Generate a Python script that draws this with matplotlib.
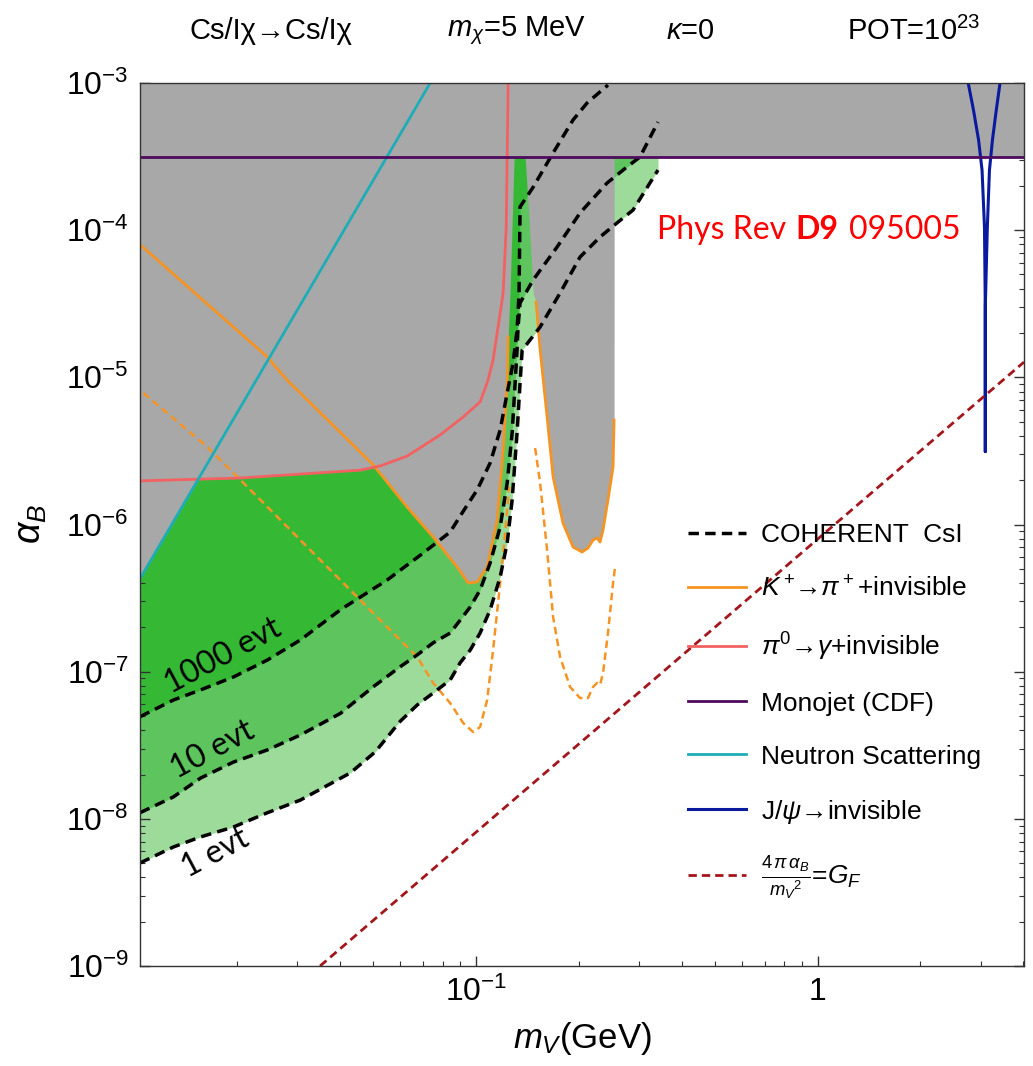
import numpy as np
import matplotlib
matplotlib.use('Agg')
import matplotlib.pyplot as plt
from matplotlib import font_manager as fm
from matplotlib.offsetbox import TextArea, HPacker, AnnotationBbox

# ---------------- data ----------------
x_lim = [0.0104, 4.02]
y_lim = [1e-9, 1e-3]

x_tick_vals = [0.1, 1.0]
x_tick_labels = [r'$10^{-1}$', '1']
y_tick_vals = [1e-9, 1e-8, 1e-7, 1e-6, 1e-5, 1e-4, 1e-3]
y_tick_labels = [r'$10^{-9}$', r'$10^{-8}$', r'$10^{-7}$', r'$10^{-6}$',
                 r'$10^{-5}$', r'$10^{-4}$', r'$10^{-3}$']

# COHERENT CsI projected sensitivity (1000, 10, 1 events)
coh1000_m = [0.0104, 0.01303, 0.01563, 0.01952, 0.02454, 0.03063, 0.04010, 0.05503,
             0.07013, 0.08410, 0.09120, 0.1009, 0.1101, 0.1178, 0.1235, 0.1285,
             0.1320, 0.1338, 0.1347, 0.1471, 0.1683, 0.1925, 0.2115, 0.2436]
coh1000_a = [4.94e-8, 6.42e-8, 7.51e-8, 9.20e-8, 1.20e-7, 1.64e-7, 2.63e-7, 4.20e-7,
             6.40e-7, 8.89e-7, 1.20e-6, 1.72e-6, 2.62e-6, 4.39e-6, 7.83e-6, 1.25e-5,
             2.10e-5, 3.74e-5, 1.44e-4, 1.96e-4, 3.35e-4, 5.61e-4, 7.31e-4, 9.69e-4]

coh10_m = [0.0104, 0.01303, 0.01563, 0.01952, 0.02454, 0.03063, 0.04010, 0.0501,
           0.06006, 0.06735, 0.0750, 0.0841, 0.08997, 0.09623, 0.1029, 0.1101,
           0.1178, 0.1235, 0.1277, 0.1303, 0.1320, 0.1329, 0.1347, 0.1471, 0.1729,
           0.2018, 0.2420, 0.2769, 0.3022, 0.3412]
coh10_a = [1.10e-8, 1.41e-8, 1.89e-8, 2.43e-8, 2.94e-8, 3.71e-8, 5.20e-8, 7.90e-8,
           1.08e-7, 1.30e-7, 1.57e-7, 1.83e-7, 2.24e-7, 2.75e-7, 3.59e-7, 5.48e-7,
           9.62e-7, 1.91e-6, 4.19e-6, 9.15e-6, 1.53e-5, 2.20e-5, 3.20e-5, 4.59e-5,
           7.69e-5, 1.31e-4, 2.09e-4, 2.69e-4, 3.14e-4, 5.43e-4]

coh1_m = [0.0104, 0.01303, 0.01563, 0.01952, 0.02454, 0.03063, 0.04290, 0.05076,
          0.06006, 0.06735, 0.0750, 0.0841, 0.08997, 0.09623, 0.1029, 0.1101,
          0.1178, 0.1235, 0.1277, 0.1320, 0.1347, 0.1366, 0.1542, 0.1764, 0.2018,
          0.2309, 0.2589, 0.2884, 0.3412]
coh1_a = [5.01e-9, 6.44e-9, 7.53e-9, 8.80e-9, 1.10e-8, 1.34e-8, 2.05e-8, 2.85e-8,
          4.60e-8, 5.94e-8, 7.16e-8, 8.78e-8, 1.15e-7, 1.40e-7, 1.83e-7, 2.63e-7,
          4.40e-7, 7.49e-7, 1.47e-6, 4.19e-6, 9.15e-6, 1.53e-5, 2.20e-5, 3.74e-5,
          6.57e-5, 8.99e-5, 1.12e-4, 1.37e-4, 2.56e-4]

# pi0 -> gamma + invisible
pi0_m = [0.01043, 0.02046, 0.0459, 0.0525, 0.0630, 0.0786, 0.0918, 0.1029, 0.1086,
         0.1123, 0.1202, 0.1227, 0.1235, 0.1243]
pi0_a = [1.98e-6, 2.07e-6, 2.34e-6, 2.50e-6, 2.92e-6, 4.06e-6, 5.38e-6, 6.80e-6,
         9.6e-6, 1.31e-5, 3.74e-5, 1.05e-4, 3.14e-4, 1.0e-3]

# K+ -> pi+ + invisible (solid: current bound), left and right branches
kpi_left_m = [0.01043, 0.02449, 0.0280, 0.0501, 0.0630, 0.0750, 0.0882, 0.0950,
              0.1009, 0.1079, 0.1154, 0.1202, 0.1235, 0.1243, 0.1259, 0.1294]
kpi_left_a = [7.93e-5, 1.38e-5, 9.6e-6, 2.54e-6, 1.31e-6, 8.22e-7, 5.14e-7, 4.0e-7,
              4.07e-7, 5.14e-7, 1.07e-6, 3.21e-6, 9.16e-6, 1.88e-5, 3.74e-5, 3.14e-4]
kpi_right_m = [0.1394, 0.1432, 0.1471, 0.1501, 0.1542, 0.1616, 0.1683, 0.1799,
               0.1925, 0.2046, 0.2129, 0.2203, 0.2263, 0.2309, 0.2356, 0.2436,
               0.2521, 0.2538]
kpi_right_a = [3.14e-4, 1.17e-4, 3.74e-5, 3.25e-5, 1.53e-5, 5.38e-6, 2.10e-6, 1.02e-6,
               7.03e-7, 6.50e-7, 6.92e-7, 7.85e-7, 8.1e-7, 7.6e-7, 9.18e-7, 1.47e-6,
               2.46e-6, 5.13e-6]

# K+ -> pi+ + invisible (dashed: projection)
kpi_proj_left_m = [0.01064, 0.01638, 0.02045, 0.02555, 0.03211, 0.04010, 0.0501,
                   0.06006, 0.06735, 0.0750, 0.0841, 0.0918, 0.0982, 0.1029, 0.1079,
                   0.1123, 0.1178, 0.1218, 0.1252]
kpi_proj_left_a = [7.83e-6, 3.36e-6, 2.01e-6, 1.20e-6, 7.03e-7, 4.20e-7, 2.50e-7,
                   1.64e-7, 1.26e-7, 8.38e-8, 6.12e-8, 4.48e-8, 3.89e-8, 4.21e-8,
                   6.42e-8, 1.40e-7, 4.01e-7, 8.76e-7, 1.80e-6]
kpi_proj_right_m = [0.1491, 0.1542, 0.1616, 0.1683, 0.1764, 0.1887, 0.2018, 0.2129,
                    0.2203, 0.2263, 0.2309, 0.2356, 0.2436, 0.2521, 0.2555]
kpi_proj_right_a = [3.31e-6, 1.91e-6, 6.71e-7, 2.35e-7, 1.26e-7, 7.87e-8, 6.62e-8,
                    6.62e-8, 7.87e-8, 8.38e-8, 8.12e-8, 9.79e-8, 1.83e-7, 4.01e-7,
                    5.14e-7]

# Monojet (CDF)
monojet_m = [0.0104, 4.02]
monojet_a = [3.14e-4, 3.14e-4]

# Neutron scattering
nscat_m = [0.01043, 0.0735]
nscat_a = [4.33e-7, 1.0e-3]

# J/psi -> invisible
jpsi_m = [2.760, 2.860, 2.960, 3.030, 3.080, 3.097, 3.097, 3.097, 3.140, 3.185,
          3.250, 3.335, 3.420]
jpsi_a = [1.0e-3, 6.55e-4, 4.10e-4, 2.56e-4, 1.05e-4, 3.0e-5, 3.13e-6, 3.0e-5,
          1.05e-4, 2.56e-4, 4.10e-4, 6.55e-4, 1.0e-3]

# 4 pi alpha_B / m_V^2 = G_F
gf_m = [0.0350, 4.02]
gf_a = [1.0e-9, 1.27e-5]

# ---------------- fonts ----------------
names = {f.name for f in fm.fontManager.ttflist}
narrow = 'Liberation Sans Narrow' if 'Liberation Sans Narrow' in names else 'Liberation Sans'
sans = 'Liberation Sans'
hum = 'Lato'
plt.rcParams['font.family'] = [sans, 'DejaVu Sans']
plt.rcParams['mathtext.fontset'] = 'custom'
plt.rcParams['mathtext.rm'] = sans
plt.rcParams['mathtext.it'] = sans + ':italic'
plt.rcParams['mathtext.bf'] = sans + ':bold'

# ---------------- figure ----------------
W, H = 1033, 1066
fig = plt.figure(figsize=(W / 100, H / 100), dpi=100)
ax = fig.add_axes([140 / W, (H - 966) / H, (1024 - 140) / W, (966 - 83) / H])
ax.set_xscale('log')
ax.set_yscale('log')
ax.set_xlim(*x_lim)
ax.set_ylim(*y_lim)

GRAY = '#A8A8A8'
G_DARK = '#35B935'
G_MED = '#5EC55E'
G_LIGHT = '#9CDB9A'


def loglog_interp(xg, xs, ys):
    xs = np.asarray(xs, float)
    ys = np.asarray(ys, float)
    out = np.full(xg.shape, np.inf)
    m = (xg >= xs.min()) & (xg <= xs.max())
    out[m] = 10 ** np.interp(np.log10(xg[m]), np.log10(xs), np.log10(ys))
    return out


grid = np.unique(np.concatenate([np.geomspace(x_lim[0], x_lim[1], 4000),
                                 pi0_m, kpi_left_m, kpi_right_m, nscat_m,
                                 coh1_m, coh10_m, coh1000_m]))

# green sensitivity bands
for cm, ca, col in [(coh1_m, coh1_a, G_LIGHT), (coh10_m, coh10_a, G_MED),
                    (coh1000_m, coh1000_a, G_DARK)]:
    g = grid[(grid >= min(cm)) & (grid <= max(cm))]
    ax.fill_between(g, loglog_interp(g, cm, ca), y_lim[1], color=col, lw=0, zorder=1)

# gray excluded region = above the lowest existing bound
env = np.minimum.reduce([
    loglog_interp(grid, pi0_m, pi0_a),
    loglog_interp(grid, kpi_left_m, kpi_left_a),
    loglog_interp(grid, kpi_right_m, kpi_right_a),
    loglog_interp(grid, nscat_m, nscat_a),
    loglog_interp(grid, monojet_m, monojet_a),
])
env = np.minimum(env, y_lim[1])
ax.fill_between(grid, env, y_lim[1], color=GRAY, lw=0, zorder=2)

# lines
dash = (3.0, 1.8)
ax.plot(coh1000_m, coh1000_a, color='black', lw=2.5, dashes=dash, zorder=6,
        label='COHERENT  CsI')
ax.plot(coh10_m, coh10_a, color='black', lw=2.5, dashes=dash, zorder=6)
ax.plot(coh1_m, coh1_a, color='black', lw=2.5, dashes=dash, zorder=6)

ORANGE = '#F59423'
ax.plot(kpi_left_m[:-2], kpi_left_a[:-2], color=ORANGE, lw=2.0, zorder=5,
        label=r'$K^+\!$→$\pi^+$+invisible')
ax.plot(kpi_right_m[3:], kpi_right_a[3:], color=ORANGE, lw=2.0, zorder=5)
ax.plot(kpi_proj_left_m, kpi_proj_left_a, color=ORANGE, lw=1.8, dashes=(3, 1.8), zorder=5)
ax.plot(kpi_proj_right_m, kpi_proj_right_a, color=ORANGE, lw=1.8, dashes=(3, 1.8), zorder=5)

ax.plot(pi0_m, pi0_a, color='#F26262', lw=2.0, zorder=5,
        label=r'$\pi^0$→$\gamma$+invisible')
ax.plot(monojet_m, monojet_a, color='#4E0A5E', lw=2.0, zorder=7, label='Monojet (CDF)')
ax.plot(nscat_m, nscat_a, color='#1EADB6', lw=2.0, zorder=5, label='Neutron Scattering')
ax.plot(jpsi_m, jpsi_a, color='#0A1A9E', lw=2.2, zorder=5,
        label=r'J/$\psi$→invisible')
ax.plot(gf_m, gf_a, color='#A3161C', lw=2.0, dashes=(3, 1.8), zorder=5,
        label=r'$\frac{4\,\pi\,\alpha_B}{m_V{}^2}$=$G_F$')

# ticks
ax.set_xticks(x_tick_vals)
ax.set_xticklabels(x_tick_labels)
ax.set_yticks(y_tick_vals)
ax.set_yticklabels(y_tick_labels)
ax.xaxis.set_minor_locator(matplotlib.ticker.LogLocator(base=10, subs=np.arange(2, 10)))
ax.yaxis.set_minor_locator(matplotlib.ticker.LogLocator(base=10, subs=np.arange(2, 10), numticks=20))
ax.xaxis.set_minor_formatter(matplotlib.ticker.NullFormatter())
ax.yaxis.set_minor_formatter(matplotlib.ticker.NullFormatter())
ax.tick_params(which='both', direction='in', top=True, right=True, color='#333333')
ax.tick_params(which='major', length=7, width=1.0, labelsize=23, pad=8)
ax.tick_params(which='minor', length=3.5, width=0.8)
for lab in ax.get_xticklabels() + ax.get_yticklabels():
    lab.set_family([narrow, 'DejaVu Sans'])
for s in ax.spines.values():
    s.set_color('#333333')
    s.set_linewidth(1.0)
    s.set_zorder(10)

ax.set_xlabel(r'$m_V$(GeV)', fontsize=25, family=[narrow, 'DejaVu Sans'], labelpad=8)
ax.set_ylabel(r'$\alpha_B$', fontsize=27, labelpad=12)

# legend
leg = ax.legend(loc='upper left', bbox_to_anchor=(688 / W, 1 - 523 / H),
                bbox_transform=fig.transFigure, frameon=False, fontsize=19,
                handlelength=2.2, handletextpad=0.55, labelspacing=1.1,
                borderpad=0, borderaxespad=0)
leg.set_zorder(12)

# event labels
for txt, xm, ya in [('1000 evt', 0.01825, 1.28e-7), ('10 evt', 0.01695, 2.94e-8),
                    ('1 evt', 0.0173, 5.86e-9)]:
    ax.text(xm, ya, txt, rotation=28, rotation_mode='anchor', ha='center', va='center',
            fontsize=23, family=hum, zorder=11)

# reference note
tp = dict(color='red', fontsize=23, family=hum)
ta1 = TextArea('Phys Rev', textprops=tp)
ta2 = TextArea('D9', textprops=dict(tp, weight='bold'))
ta3 = TextArea('095005', textprops=tp)
box = HPacker(children=[ta1, ta2, ta3], sep=7, align='baseline', pad=0)
ab = AnnotationBbox(box, (0.339, 1.0e-4), xycoords='data', box_alignment=(0, 0.5),
                    frameon=False, pad=0)
ab.set_zorder(12)
ax.add_artist(ab)

# header row
ty = 1 - 31 / H
for txt, px in [('Cs/Iχ→Cs/Iχ', 271), (r'$m_\chi$=5 MeV', 517), (r'$\kappa$=0', 690),
                (r'POT=$10^{23}$', 914)]:
    fig.text(px / W, ty, txt, ha='center', va='center', fontsize=21,
             family=[narrow, 'DejaVu Sans'])

fig.savefig('out.png', dpi=100)
